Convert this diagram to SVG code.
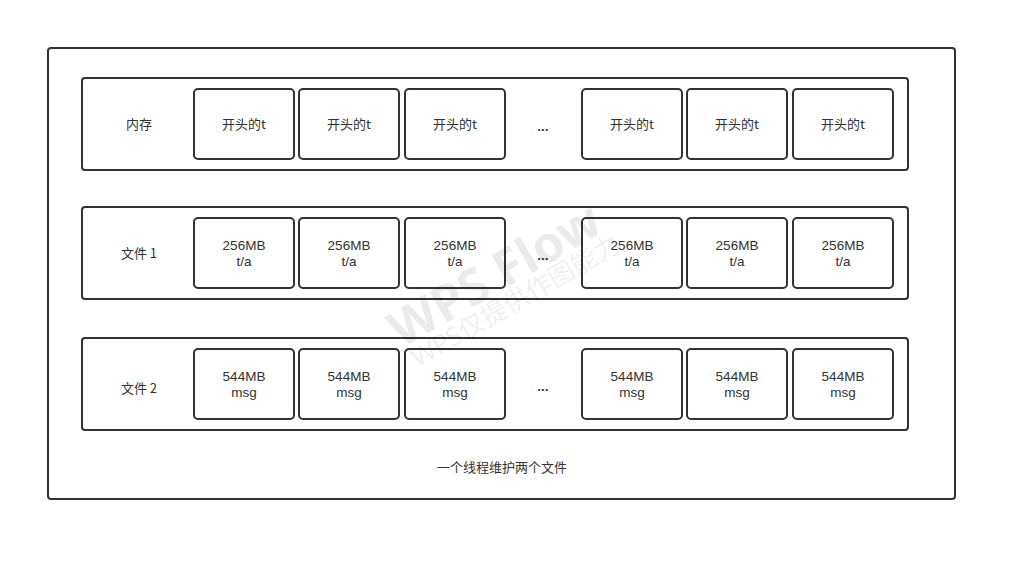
<svg xmlns="http://www.w3.org/2000/svg" width="1017" height="561" viewBox="0 0 1017 561">
<style>
.box{fill:#fff;stroke:#323232;stroke-width:2}
.t{font-family:"Noto Sans CJK SC","Noto Sans",sans-serif;font-size:13px;fill:#323232;text-anchor:middle}
.l{font-family:"Liberation Sans","Noto Sans",sans-serif;font-size:13.5px;fill:#323232;text-anchor:middle}
.wm{font-family:"Noto Sans","Noto Sans CJK SC",sans-serif;fill:#000;fill-opacity:0.08;text-anchor:middle}
</style>
<rect width="1017" height="561" fill="#fff"/>
<g id="outer"><rect class="box" x="48" y="48" width="907" height="451" rx="3"/>
<text class="t" x="502" y="472">一个线程维护两个文件</text></g>
<g id="row-mem"><rect class="box" x="82" y="78" width="826" height="92" rx="3"/><text class="t" x="139" y="129">内存</text></g>
<g id="row-f1"><rect class="box" x="82" y="207" width="826" height="92" rx="3"/><text class="t" x="139" y="258">文件 1</text></g>
<g id="row-f2"><rect class="box" x="82" y="338" width="826" height="92" rx="3"/><text class="t" x="139" y="393">文件 2</text></g>
<g id="mem-cells">
<g id="m1"><rect class="box" x="194" y="89" width="100" height="70" rx="4"/><text class="t" x="244" y="129">开头的t</text></g>
<g id="m2"><rect class="box" x="299" y="89" width="100" height="70" rx="4"/><text class="t" x="349" y="129">开头的t</text></g>
<g id="m3"><rect class="box" x="405" y="89" width="100" height="70" rx="4"/><text class="t" x="455" y="129">开头的t</text></g>
<g id="m-dots"><text class="l" x="543" y="131" font-weight="bold">...</text></g>
<g id="m4"><rect class="box" x="582" y="89" width="100" height="70" rx="4"/><text class="t" x="632" y="129">开头的t</text></g>
<g id="m5"><rect class="box" x="687" y="89" width="100" height="70" rx="4"/><text class="t" x="737" y="129">开头的t</text></g>
<g id="m6"><rect class="box" x="793" y="89" width="100" height="70" rx="4"/><text class="t" x="843" y="129">开头的t</text></g>
</g>
<g id="f1-cells">
<g id="a1"><rect class="box" x="194" y="218" width="100" height="70" rx="4"/><text class="l" x="244" y="250">256MB</text><text class="l" x="244" y="266">t/a</text></g>
<g id="a2"><rect class="box" x="299" y="218" width="100" height="70" rx="4"/><text class="l" x="349" y="250">256MB</text><text class="l" x="349" y="266">t/a</text></g>
<g id="a3"><rect class="box" x="405" y="218" width="100" height="70" rx="4"/><text class="l" x="455" y="250">256MB</text><text class="l" x="455" y="266">t/a</text></g>
<g id="a-dots"><text class="l" x="543" y="260" font-weight="bold">...</text></g>
<g id="a4"><rect class="box" x="582" y="218" width="100" height="70" rx="4"/><text class="l" x="632" y="250">256MB</text><text class="l" x="632" y="266">t/a</text></g>
<g id="a5"><rect class="box" x="687" y="218" width="100" height="70" rx="4"/><text class="l" x="737" y="250">256MB</text><text class="l" x="737" y="266">t/a</text></g>
<g id="a6"><rect class="box" x="793" y="218" width="100" height="70" rx="4"/><text class="l" x="843" y="250">256MB</text><text class="l" x="843" y="266">t/a</text></g>
</g>
<g id="f2-cells">
<g id="b1"><rect class="box" x="194" y="349" width="100" height="70" rx="4"/><text class="l" x="244" y="381">544MB</text><text class="l" x="244" y="397">msg</text></g>
<g id="b2"><rect class="box" x="299" y="349" width="100" height="70" rx="4"/><text class="l" x="349" y="381">544MB</text><text class="l" x="349" y="397">msg</text></g>
<g id="b3"><rect class="box" x="405" y="349" width="100" height="70" rx="4"/><text class="l" x="455" y="381">544MB</text><text class="l" x="455" y="397">msg</text></g>
<g id="b-dots"><text class="l" x="543" y="391" font-weight="bold">...</text></g>
<g id="b4"><rect class="box" x="582" y="349" width="100" height="70" rx="4"/><text class="l" x="632" y="381">544MB</text><text class="l" x="632" y="397">msg</text></g>
<g id="b5"><rect class="box" x="687" y="349" width="100" height="70" rx="4"/><text class="l" x="737" y="381">544MB</text><text class="l" x="737" y="397">msg</text></g>
<g id="b6"><rect class="box" x="793" y="349" width="100" height="70" rx="4"/><text class="l" x="843" y="381">544MB</text><text class="l" x="843" y="397">msg</text></g>
</g>
<g id="connectors"></g>
<g id="watermark">
<text class="wm" x="495" y="292" font-size="50" font-weight="bold" transform="rotate(-30 495 275)">WPS Flow</text>
<text class="wm" x="515" y="310" font-size="26" transform="rotate(-30 515 300)">WPS仅提供作图能力</text>
</g>
</svg>
